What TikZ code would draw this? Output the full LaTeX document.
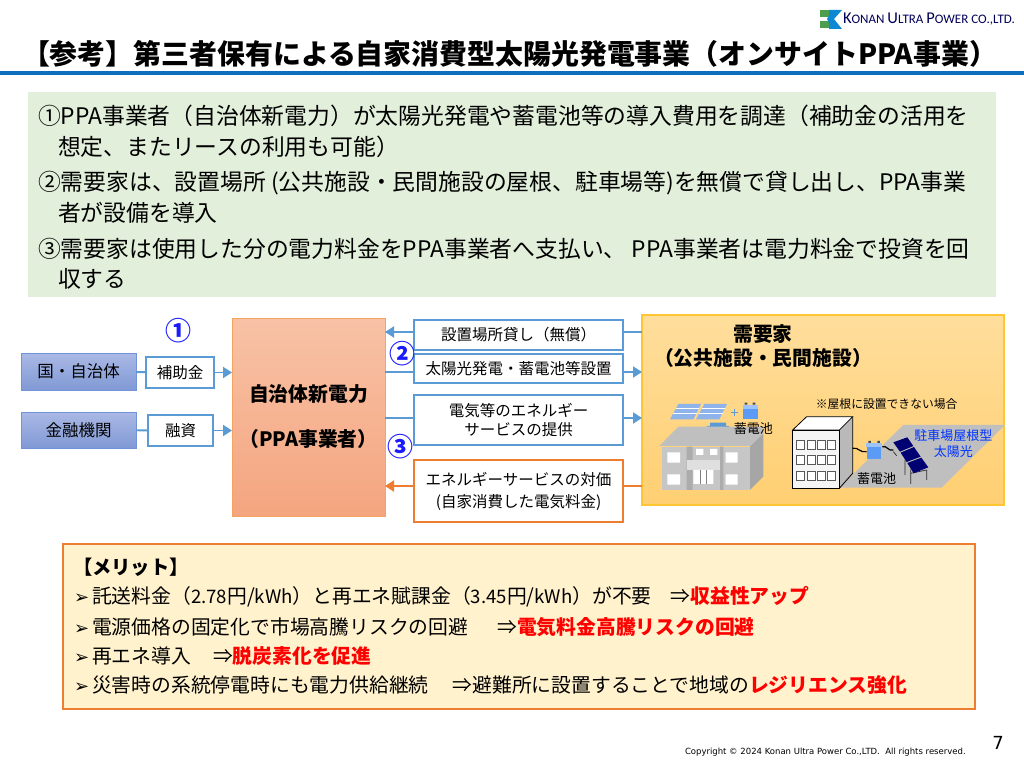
\documentclass[tikz,border=0pt]{standalone}
\usepackage{fontspec}
\setmainfont{Noto Sans CJK JP}
\newfontfamily\bulletfont{DejaVu Sans}
\usetikzlibrary{arrows.meta}
\definecolor{linkblue}{HTML}{5B9BD5}
\definecolor{linkorange}{HTML}{ED7D31}
\definecolor{markblue}{HTML}{1A1AFF}
\definecolor{keyred}{HTML}{FF0000}
\definecolor{panelblue}{HTML}{8FB4EC}
\definecolor{battblue}{HTML}{5B9BF5}
\definecolor{notegreen}{HTML}{E2EFDA}
\definecolor{meritcream}{HTML}{FFF2CC}
\definecolor{rulebar}{HTML}{0B6FBE}
\definecolor{fundtop}{HTML}{AAB9E5}
\definecolor{fundbottom}{HTML}{8099D5}
\definecolor{fundedge}{HTML}{7094D6}
\definecolor{ppatop}{HTML}{F8C2A6}
\definecolor{ppabottom}{HTML}{F4A57F}
\definecolor{ppaedge}{HTML}{F4A460}
\definecolor{usertop}{HTML}{FFDE9C}
\definecolor{userbottom}{HTML}{FFCF72}
\definecolor{useredge}{HTML}{FFC533}
\tikzset{
    every node/.style={inner sep=0pt, outer sep=0pt},
    pxfont/.style={font=\fontsize{#1}{19}\selectfont},
    noteline/.style={anchor=west, pxfont=22.8},
    meritline/.style={anchor=west, pxfont=19.8},
    flowbox/.style={draw=linkblue, line width=1.7pt, fill=white, align=center, pxfont=15.5},
    paybox/.style={flowbox, draw=linkorange},
    fundbox/.style={draw=fundedge, line width=1pt, top color=fundtop, bottom color=fundbottom, pxfont=16.5},
    smalltext/.style={pxfont=13},
    flow/.style={draw=linkblue, line width=1.9pt},
    flowtip/.style={flow, -{Triangle[length=9pt,width=11pt]}},
    payflow/.style={draw=linkorange, line width=1.9pt},
    paytip/.style={payflow, -{Triangle[length=9pt,width=11pt]}},
    circlemark/.style={text=markblue, font=\bfseries\fontsize{26}{30}\selectfont}
}
\newcommand{\bul}{{\bulletfont\fontsize{18}{20}\selectfont ➢}\hspace{3pt}}
\newcommand{\key}[1]{{\bfseries\color{keyred}#1}}
\newcommand{\latin}[1]{{\fontsize{18.6}{20}\selectfont #1}}
\begin{document}
\begin{tikzpicture}[x=1pt,y=-1pt]
  \useasboundingbox (0,0) rectangle (1024,768);
  \fill[white] (0,0) rectangle (1024,768);

  % header
  \fill[green!45!black!70] (820,10) rectangle (829,17);
  \fill[green!45!black!70] (820,21) rectangle (829,28);
  \fill[cyan!70!blue] (829,10) -- (842,10) -- (834,19) -- (842,29) -- (829,29) -- (829,23) -- (827,19) -- (829,15) -- cycle;
  \node[anchor=west, text=blue!35!black, font=\fontsize{13}{16}\selectfont] (logo) at (843,19)
    {\fontspec{Carlito}\fontsize{16.5}{18}\selectfont K\fontsize{13}{16}\selectfont ONAN \fontsize{16.5}{18}\selectfont U\fontsize{13}{16}\selectfont LTRA \fontsize{16.5}{18}\selectfont P\fontsize{13}{16}\selectfont OWER CO.,LTD.};
  \node[anchor=west, font=\bfseries\fontsize{27.9}{32}\selectfont] (title) at (22,54)
    {【参考】第三者保有による自家消費型太陽光発電事業（オンサイトPPA事業）};
  \fill[rulebar] (0,71) rectangle (1024,75);

  % notes
  \fill[notegreen] (28,92) rectangle (996,297);
  \node[noteline] (note1) at (38,116) {①PPA事業者（自治体新電力）が太陽光発電や蓄電池等の導入費用を調達（補助金の活用を};
  \node[noteline] (note2) at (58,147) {想定、またリースの利用も可能）};
  \node[noteline] (note3) at (38,183) {②需要家は、設置場所 (公共施設・民間施設の屋根、駐車場等)を無償で貸し出し、PPA事業};
  \node[noteline] (note4) at (58,213) {者が設備を導入};
  \node[noteline] (note5) at (38,249) {③需要家は使用した分の電力料金をPPA事業者へ支払い、 PPA事業者は電力料金で投資を回};
  \node[noteline] (note6) at (58,279) {収する};

  % flow
  \node[draw=ppaedge, line width=1pt, top color=ppatop, bottom color=ppabottom,
    minimum width=153pt, minimum height=198pt, align=center, font=\bfseries\fontsize{19.8}{24}\selectfont] (ppa) at (308.5,417)
    {自治体新電力\\[21pt]（PPA事業者）};
  \node[fundbox, minimum width=115pt, minimum height=37pt] (gov) at (78.5,371.5) {国・自治体};
  \node[fundbox, minimum width=115pt, minimum height=36pt] (bank) at (78.5,430) {金融機関};
  \node[flowbox, minimum width=68pt, minimum height=31pt] (subsidy) at (180,372.5) {補助金};
  \node[flowbox, minimum width=65pt, minimum height=31pt] (loan) at (180.5,430.5) {融資};
  \node[flowbox, minimum width=209pt, minimum height=30pt] (lend) at (518.5,335) {設置場所貸し（無償）};
  \node[flowbox, minimum width=209pt, minimum height=29pt] (install) at (518.5,368.5) {太陽光発電・蓄電池等設置};
  \node[flowbox, minimum width=209pt, minimum height=50pt] (service) at (518.5,420) {電気等のエネルギー\\サービスの提供};
  \node[paybox, minimum width=209pt, minimum height=62pt] (pay) at (518.5,491) {エネルギーサービスの対価\\[3pt](自家消費した電気料金)};
  \node[draw=useredge, line width=1.5pt, top color=usertop, bottom color=userbottom,
    minimum width=362pt, minimum height=190pt] (consumer) at (823,410) {};

  \draw[flow] (gov) edge (subsidy);
  \draw[flow] (bank) edge (loan);
  \draw[flowtip] (subsidy) -- (subsidy -| ppa.west);
  \draw[flowtip] (loan) -- (loan -| ppa.west);
  \coordinate (lendlevel) at (0,332);
  \coordinate (installlevel) at (0,372);
  \coordinate (servicelevel) at (0,418);
  \coordinate (paylevel) at (0,486);
  \draw[flow] (lendlevel -| consumer.west) -- (lendlevel -| lend.east);
  \draw[flowtip] (lendlevel -| lend.west) -- (lendlevel -| ppa.east);
  \draw[flow] (installlevel -| ppa.east) -- (installlevel -| install.west);
  \draw[flowtip] (installlevel -| install.east) -- (installlevel -| consumer.west);
  \draw[flow] (servicelevel -| ppa.east) -- (servicelevel -| service.west);
  \draw[flowtip] (servicelevel -| service.east) -- (servicelevel -| consumer.west);
  \draw[payflow] (paylevel -| consumer.west) -- (paylevel -| pay.east);
  \draw[paytip] (paylevel -| pay.west) -- (paylevel -| ppa.east);

  \node[circlemark] (mark1) at (178,331) {①};
  \node[circlemark] (mark2) at (402,354) {②};
  \node[circlemark] (mark3) at (400,447) {③};

  % consumer
  \node[align=center, font=\bfseries\fontsize{19.8}{24}\selectfont] (consumerlabel) at (763,346) {需要家\\（公共施設・民間施設）};

  \begin{scope}[shift={(630,310)},x=.3333pt,y=-.3333pt]
    % solar panels on the roof
    \foreach \px in {0,78} {
      \fill[panelblue] (120+\px,328) -- (145+\px,282) -- (213+\px,282) -- (190+\px,328) -- cycle;
      \draw[white, line width=.5pt] (130+\px,309) -- (200+\px,309) (137+\px,295) -- (207+\px,295);
    }
    \fill[linkblue] (240,338) -- (288,338) -- (288,348) -- (300,348) -- (264,365) -- (228,348) -- (240,348) -- cycle;
    \draw[linkblue, line width=1.2pt] (303,307) -- (325,307) (314,296) -- (314,318);
    \fill[gray!60!black] (344,278) rectangle (352,284) (368,278) rectangle (376,284);
    \fill[battblue!60!white] (339,284) rectangle (384,296);
    \fill[battblue] (340,296) rectangle (383,327);

    % left building
    \fill[gray!45] (97,410) rectangle (360,540);
    \fill[gray!70] (360,408) -- (400,370) -- (400,500) -- (360,540) -- cycle;
    \fill[gray!50] (88,408) -- (145,350) -- (400,350) -- (400,370) -- (362,408) -- cycle;
    \fill[gray!65] (170,410) rectangle (188,540) (270,410) rectangle (280,540);
    \fill[gray!25] (170,450) rectangle (270,480);
    \fill[white] (112,427) rectangle (150,458) (287,427) rectangle (323,458)
      (112,493) rectangle (150,524) (287,493) rectangle (323,524)
      (198,417) rectangle (220,435) (240,417) rectangle (262,435)
      (190,480) rectangle (250,522);
    \draw[gray, line width=.5pt] (210,480) -- (210,522) (230,480) -- (230,522);

    % right side, ground and office block
    \fill[gray!50] (628,533) -- (820,345) -- (1125,345) -- (935,533) -- cycle;
    \fill[gray!55] (628,360) -- (668,320) -- (668,490) -- (628,535) -- cycle;
    \filldraw[fill=white, draw=black, line width=.8pt] (488,360) -- (530,320) -- (668,320) -- (628,360) -- cycle;
    \filldraw[fill=gray!8, draw=black, line width=.8pt] (488,360) rectangle (628,535);
    \draw[black, line width=.8pt] (668,320) -- (668,490) -- (628,535);
    \foreach \wy in {390,435,485} {
      \foreach \wx in {500,532,563,593} {
        \draw[gray!70!black, fill=white, line width=.7pt] (\wx,\wy) rectangle (\wx+24,\wy+27);
      }
    }
    \draw[black, line width=1.2pt] (668,415) .. controls (685,410) and (690,430) .. (710,425);
    \draw[black, line width=1.2pt] (757,410) .. controls (770,405) and (775,425) .. (790,420);
    \fill[gray!60!black] (715,393) rectangle (723,399) (742,393) rectangle (750,399);
    \fill[battblue!60!white] (709,399) rectangle (755,412);
    \fill[battblue] (711,412) rectangle (753,447);

    % carport
    \draw[gray!35!black, line width=.7pt] (790,425) -- (800,437) (825,450) -- (825,495) (842,478) -- (842,522)
      (890,480) -- (890,510) (842,490) -- (890,480);
    \fill[blue!45!black] (790,397) -- (832,382) -- (850,408) -- (810,425) -- cycle;
    \fill[blue!45!black] (812,428) -- (852,411) -- (872,440) -- (830,456) -- cycle;
    \fill[blue!45!black] (832,459) -- (874,443) -- (895,472) -- (851,490) -- cycle;

    \node[smalltext] (rooflabel) at (370,355) {蓄電池};
    \node[pxfont=11.8] (nolabel) at (770,282) {※屋根に設置できない場合};
    \node[smalltext] (battlabel) at (740,507) {蓄電池};
    \node[text=blue!80!cyan, align=center, font=\fontsize{13}{16}\selectfont] (carportlabel) at (970,402) {駐車場屋根型\\太陽光};
  \end{scope}

  % merits
  \fill[meritcream, draw=linkorange, line width=1.5pt] (63,544) rectangle (975,709);
  \node[meritline, font=\bfseries\fontsize{19.3}{23}\selectfont] (merit0) at (73,567) {【メリット】};
  \node[meritline] (merit1) at (74,597) {\bul 託送料金（\latin{2.78}円/\latin{kWh}）と再エネ賦課金（\latin{3.45}円/\latin{kWh}）が不要\hspace{19pt}⇒\key{収益性アップ}};
  \node[meritline] (merit2) at (74,627) {\bul 電源価格の固定化で市場高騰リスクの回避\hspace{29pt}⇒\key{電気料金高騰リスクの回避}};
  \node[meritline] (merit3) at (74,656) {\bul 再エネ導入\hspace{22pt}⇒\key{脱炭素化を促進}};
  \node[meritline] (merit4) at (74,685) {\bul 災害時の系統停電時にも電力供給継続\hspace{24pt}⇒避難所に設置することで地域の\key{レジリエンス強化}};

  % footer
  \node[anchor=west, font=\bulletfont\fontsize{8.5}{11}\selectfont] (copyright) at (685,752) {Copyright © 2024 Konan Ultra Power Co.,LTD.\ \ All rights reserved.};
  \node[font=\bulletfont\fontsize{18}{20}\selectfont] (pageno) at (998,743) {7};
\end{tikzpicture}
\end{document}
